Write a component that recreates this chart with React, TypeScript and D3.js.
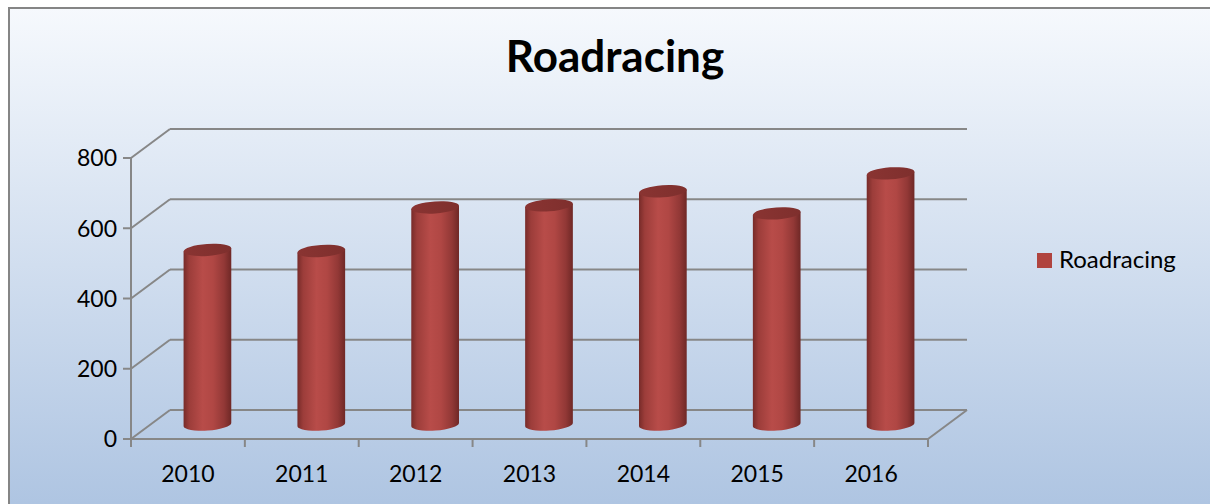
import { useMemo } from 'react';
import * as d3 from 'd3';

const years = ['2010', '2011', '2012', '2013', '2014', '2015', '2016'];
const values = [497, 494, 618, 624, 664, 601, 715];
const yTicks = [0, 200, 400, 600, 800];
const seriesName = 'Roadracing';

const W = 1210;
const H = 504;
const PLOT = { left: 131, right: 928, top: 158, bottom: 439 };
const DEPTH = { dx: 39, dy: -29 };
const FONT = 'Lato, "Open Sans", sans-serif';
const GRID = '#878787';

export default function App() {
  const x = useMemo(
    () => d3.scaleBand().domain(years).range([PLOT.left, PLOT.right]).paddingInner(0).paddingOuter(0),
    []
  );
  const y = useMemo(() => d3.scaleLinear().domain([0, 800]).range([PLOT.bottom, PLOT.top]), []);

  const rx = x.bandwidth() * 0.21;
  const ry = 6;
  const tilt = -4;
  const t = (tilt * Math.PI) / 180;
  const ex = rx * Math.cos(t);
  const ey = rx * Math.sin(t);

  const boundaries = d3.range(years.length + 1).map((i) => PLOT.left + i * x.step());

  return (
    <svg
      width={W}
      height={H}
      style={{ position: 'absolute', left: 0, top: 0, display: 'block' }}
    >
      <defs>
        <linearGradient id="bg" x1="0" y1="0" x2="0" y2="1">
          <stop offset="0%" stopColor="#f6f9fd" />
          <stop offset="100%" stopColor="#acc3e1" />
        </linearGradient>
        <linearGradient id="cyl" x1="0" y1="0" x2="1" y2="0">
          <stop offset="0%" stopColor="#772b29" />
          <stop offset="12%" stopColor="#9c3d3a" />
          <stop offset="40%" stopColor="#b84c49" />
          <stop offset="62%" stopColor="#b04744" />
          <stop offset="85%" stopColor="#923836" />
          <stop offset="100%" stopColor="#6f2826" />
        </linearGradient>
        <linearGradient id="cap" x1="0" y1="0" x2="1" y2="0">
          <stop offset="0%" stopColor="#8a3432" />
          <stop offset="100%" stopColor="#7e2f2d" />
        </linearGradient>
      </defs>

      <rect x={9} y={8} width={W + 10} height={H + 10} fill="url(#bg)" stroke="#858585" strokeWidth={2} />

      <text
        x={615}
        y={72}
        textAnchor="middle"
        fontFamily={FONT}
        fontWeight={700}
        fontSize={44}
        fill="#000"
      >
        Roadracing
      </text>

      {/* back wall gridlines + side diagonals */}
      <g stroke={GRID} strokeWidth={2} fill="none">
        {yTicks.map((v) => (
          <g key={v}>
            <line
              x1={PLOT.left + DEPTH.dx}
              x2={PLOT.right + DEPTH.dx}
              y1={y(v) + DEPTH.dy}
              y2={y(v) + DEPTH.dy}
            />
            <line x1={PLOT.left} y1={y(v)} x2={PLOT.left + DEPTH.dx} y2={y(v) + DEPTH.dy} />
            <line x1={PLOT.left - 8} x2={PLOT.left} y1={y(v)} y2={y(v)} />
          </g>
        ))}
        <line x1={PLOT.right} y1={y(0)} x2={PLOT.right + DEPTH.dx} y2={y(0) + DEPTH.dy} />
        <line x1={PLOT.left} x2={PLOT.left} y1={y(800)} y2={y(0)} />
        <line x1={PLOT.left} x2={PLOT.right} y1={y(0)} y2={y(0)} />
        {boundaries.map((bx, i) => (
          <line key={i} x1={bx} x2={bx} y1={y(0)} y2={y(0) + 8} />
        ))}
      </g>

      {/* cylinders */}
      {years.map((yr, i) => {
        const cx = (x(yr) ?? 0) + x.bandwidth() / 2 + DEPTH.dx / 2;
        const base = y(0) + DEPTH.dy / 2;
        const top = y(values[i]) + DEPTH.dy / 2;
        const body = [
          `M${cx - ex},${top - ey}`,
          `L${cx - ex},${base - ey}`,
          `A${rx},${ry} ${tilt} 0 0 ${cx + ex},${base + ey}`,
          `L${cx + ex},${top + ey}`,
          'Z',
        ].join(' ');
        return (
          <g key={yr}>
            <path d={body} fill="url(#cyl)" />
            <ellipse
              cx={cx}
              cy={top}
              rx={rx}
              ry={ry}
              transform={`rotate(${tilt} ${cx} ${top})`}
              fill="url(#cap)"
            />
          </g>
        );
      })}

      {/* y labels */}
      {yTicks.map((v) => (
        <text
          key={v}
          x={117}
          y={y(v)}
          dy="0.36em"
          textAnchor="end"
          fontFamily={FONT}
          fontSize={23}
          fill="#000"
        >
          {v}
        </text>
      ))}

      {/* x labels */}
      {years.map((yr) => (
        <text
          key={yr}
          x={(x(yr) ?? 0) + x.bandwidth() / 2}
          y={482}
          textAnchor="middle"
          fontFamily={FONT}
          fontSize={23}
          fill="#000"
        >
          {yr}
        </text>
      ))}

      {/* legend */}
      <rect x={1037} y={253} width={15} height={15} fill="#b0443f" />
      <text x={1059} y={268} fontFamily={FONT} fontSize={24} fill="#000">
        {seriesName}
      </text>
    </svg>
  );
}
